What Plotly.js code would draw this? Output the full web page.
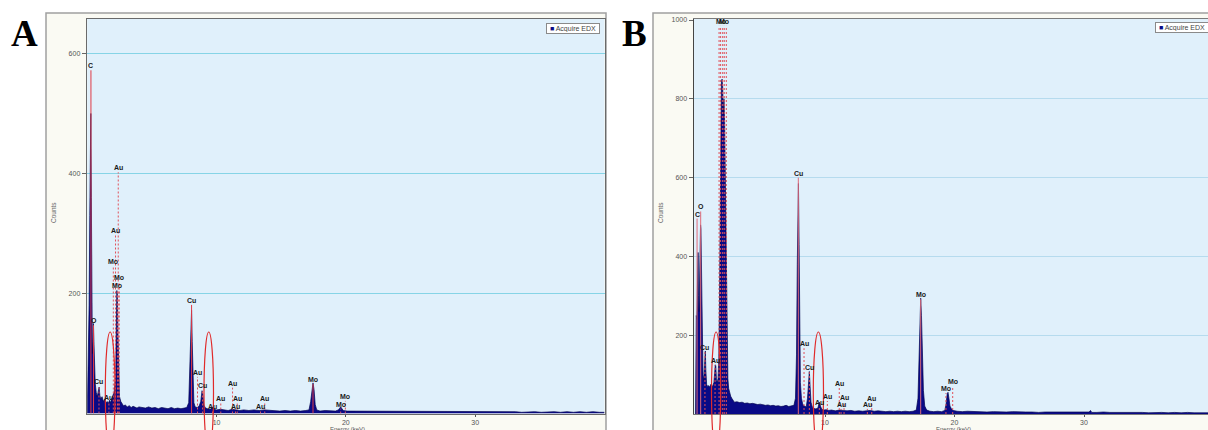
<!DOCTYPE html>
<html><head><meta charset="utf-8">
<script src="https://cdn.plot.ly/plotly-3.0.1.min.js"></script>
<style>html,body{margin:0;padding:0;background:#fff;overflow:hidden}#chart{width:1208px;height:430px}</style>
</head><body><div id="chart"></div>
<script>
// ---------- Panel A spectrum (keV, counts) ----------
const energyA = [0,0.05,0.1,0.15,0.2,0.24,0.28,0.32,0.36,0.4,0.44,0.48,0.52,0.56,0.62,0.7,0.78,0.86,0.92,0.98,1.05,1.15,1.25,1.35,1.45,1.55,1.65,1.72,1.8,1.88,1.95,2.02,2.08,2.14,2.2,2.25,2.29,2.33,2.38,2.43,2.5,2.6,2.7,2.8,2.95,3.1,3.25,3.4,3.55,3.7,3.85,4.0,4.25,4.5,4.75,5.0,5.25,5.5,5.75,6.0,6.25,6.5,6.75,7.0,7.25,7.5,7.7,7.85,7.95,8.02,8.07,8.12,8.18,8.25,8.35,8.5,8.65,8.78,8.88,8.94,9.02,9.15,9.3,9.5,9.65,9.72,9.8,10.0,10.3,10.6,10.9,11.2,11.5,11.8,12.1,12.5,12.9,13.3,13.7,14.1,14.5,14.9,15.3,15.7,16.1,16.5,16.9,17.15,17.28,17.38,17.46,17.54,17.63,17.75,18.0,18.4,18.8,19.2,19.42,19.52,19.6,19.7,19.8,20.1,20.6,21.1,21.6,22.1,22.6,23.1,23.6,24.1,24.6,25.1,25.6,26.1,26.6,27.1,27.6,28.1,28.6,29.1,29.6,30.1,30.6,31.1,31.6,32.1,32.6,33.1,33.6,34.1,34.6,35.1,35.6,36.1,36.6,37.1,37.6,38.1,38.6,39.1,39.6,40];
const countsA = [0,60,110,180,330,470,500,360,170,100,120,150,120,70,50,35,28,38,44,30,24,28,20,24,18,20,17,22,18,24,30,32,35,45,60,140,205,200,135,60,28,20,16,13,14,11,13,10,12,11,9,11,10,9,11,9,10,8,10,9,8,10,8,9,8,9,10,18,80,150,172,120,45,18,11,10,12,20,38,32,14,9,8,7,9,11,7,6,7,6,5,7,6,5,6,5,6,5,6,5,5,4,5,4,5,4,5,6,20,45,51,40,15,6,4,5,4,4,6,10,11,8,5,4,4,3,4,3,4,3,3,4,3,3,3,4,3,3,3,4,3,3,3,3,4,3,3,3,3,3,2,3,3,2,3,3,2,3,2,3,2,3,2,2];

// Panel A element markers: solid (main) lines
const mainEnergyA = [0.29,0.49,8.07,17.46];
const mainTopA    = [572,147,181,49];
const mainLabelA  = ['C','O','Cu','Mo'];
// Panel A element markers: dotted lines
const minorEnergyA = [0.91,1.68,2.02,2.19,2.40,2.48,2.34,8.53,8.92,9.69,10.33,11.24,11.6,11.47,13.73,13.4,19.96,19.6];
const minorTopA    = [46,19,246,297,402,219,206,61,39,4,17,43,17,4,17,4,21,8];
const minorLabelA  = ['Cu','Au','Mo','Au','Au','Mo','Mo','Au','Cu','Au','Au','Au','Au','Au','Au','Au','Mo','Mo'];

// ---------- Panel B spectrum (keV, counts) ----------
const energyB = [0,0.03,0.06,0.1,0.14,0.17,0.2,0.23,0.27,0.31,0.35,0.39,0.42,0.45,0.49,0.53,0.58,0.63,0.68,0.72,0.76,0.8,0.86,0.94,1.02,1.1,1.18,1.26,1.34,1.42,1.48,1.53,1.57,1.62,1.68,1.74,1.8,1.84,1.88,1.92,1.96,2.0,2.05,2.1,2.15,2.2,2.25,2.3,2.35,2.4,2.45,2.5,2.56,2.64,2.72,2.8,2.9,3.0,3.2,3.4,3.6,3.8,4.0,4.2,4.4,4.6,4.8,5.0,5.2,5.4,5.6,5.8,6.0,6.2,6.4,6.6,6.8,7.0,7.2,7.4,7.6,7.72,7.8,7.86,7.91,7.95,8.0,8.05,8.1,8.18,8.28,8.4,8.55,8.65,8.72,8.79,8.85,8.92,9.02,9.15,9.3,9.45,9.52,9.58,9.65,9.75,9.9,10.1,10.3,10.5,10.8,11.1,11.4,11.7,12.0,12.3,12.6,12.9,13.2,13.5,13.8,14.1,14.4,14.7,15.0,15.3,15.6,15.9,16.2,16.5,16.8,17.05,17.18,17.27,17.34,17.39,17.45,17.52,17.6,17.7,17.85,18.1,18.4,18.7,19.0,19.25,19.35,19.44,19.5,19.57,19.65,19.75,19.9,20.2,20.6,21.0,21.5,22.0,22.5,23.0,23.5,24.0,24.5,25.0,25.5,26.0,26.5,27.0,27.5,28.0,28.5,29.0,29.5,30.0,30.4,30.5,30.6,31.0,31.5,32.0,32.5,33.0,33.5,34.0,34.5,35.0,35.5,36.0,36.5,37.0,37.5,38.0,38.5,39.0,39.6];
const countsB = [0,180,250,240,330,400,410,300,260,330,440,480,470,380,260,160,100,85,110,150,160,110,75,70,72,68,75,70,72,80,100,125,122,85,80,90,140,250,450,650,780,840,850,830,760,800,740,600,420,250,150,90,65,50,45,40,33,30,31,29,30,27,28,26,27,25,24,25,23,22,23,21,22,20,21,19,20,22,19,20,22,40,150,380,560,585,430,200,80,40,25,20,18,40,85,108,70,30,18,14,13,15,24,30,20,12,10,11,9,10,8,10,9,8,9,7,8,7,8,9,7,8,7,6,7,6,7,6,7,6,7,10,40,160,270,294,250,150,60,20,10,7,6,7,6,9,25,52,55,40,20,14,9,7,6,7,6,6,5,6,5,5,6,5,5,5,4,5,5,4,5,4,5,4,5,9,4,4,5,4,4,5,4,4,4,3,4,4,3,4,3,4,3,3,3];

const mainEnergyB = [0.12,0.40,7.94,17.39];
const mainTopB    = [496,514,600,291];
const mainLabelB  = ['C','O','Cu','Mo'];
const minorEnergyB = [0.73,1.51,1.82,1.94,2.10,2.22,2.38,8.38,8.79,9.56,10.18,11.1,11.47,11.24,13.61,13.27,19.86,19.34];
const minorTopB    = [157,124,985,985,985,985,985,167,106,18,33,66,30,13,28,13,71,53];
const minorLabelB  = ['Cu','Au','','Mo','','Mo','','Au','Cu','Au','Au','Au','Au','Au','Au','Au','Mo','Mo'];

const tickValsX = [10,20,30];
const tickValsYA = [200,400,600];
const tickValsYB = [200,400,600,800,1000];
const seriesName = 'Acquire EDX';
const panelLetters = ['A','B'];

// ---------- helpers ----------
const W = 1208, H = 430;
const px = v => v / W;
const py = v => 1 - v / H;

function lineTrace(E, T, xa, ya, color, dash, width) {
  const xs = [], ys = [];
  E.forEach((e, i) => { xs.push(e, e, null); ys.push(0, T[i], null); });
  return {type:'scatter', mode:'lines', x:xs, y:ys, xaxis:xa, yaxis:ya,
    line:{color:color, width:width, dash:dash}, hoverinfo:'skip', showlegend:false};
}
function labelAnns(E, T, L, xr, yr) {
  const out = [];
  E.forEach((e, i) => {
    if (!L[i]) return;
    out.push({xref:xr, yref:yr, x:e, y:T[i], text:'<b>' + L[i] + '</b>', showarrow:false,
      yanchor:'bottom', xanchor:'center', yshift:-1,
      font:{family:'Liberation Sans, Arial', size:7, color:'#1a1a1a'}});
  });
  return out;
}

const navy = '#0a0a86';
const traces = [
  {type:'scatter', mode:'lines', x:energyA, y:countsA, xaxis:'x', yaxis:'y', fill:'tozeroy',
   fillcolor:navy, line:{color:'#050550', width:0.7}, name:seriesName, showlegend:false},
  lineTrace(minorEnergyA, minorTopA, 'x', 'y', '#e0505a', '2px,2px', 1),
  lineTrace(mainEnergyA, mainTopA, 'x', 'y', '#e03a45', 'solid', 1),
  {type:'scatter', mode:'lines', x:energyB, y:countsB, xaxis:'x2', yaxis:'y2', fill:'tozeroy',
   fillcolor:navy, line:{color:'#050550', width:0.7}, name:seriesName, showlegend:false},
  lineTrace(minorEnergyB, minorTopB, 'x2', 'y2', '#e0505a', '2px,2px', 1),
  lineTrace(mainEnergyB, mainTopB, 'x2', 'y2', '#e06a78', 'solid', 1)
];

const tickFont = {family:'Liberation Sans, Arial', size:7, color:'#555'};
const axA = {x0:87.2, x1:604.5, y0:19, y1:413.5};
const axB = {x0:694, x1:1208, y0:19, y1:414};

const layout = {
  width:W, height:H, margin:{l:0,r:0,t:0,b:0},
  paper_bgcolor:'#ffffff', plot_bgcolor:'rgba(0,0,0,0)', showlegend:false,
  font:{family:'Liberation Sans, Arial'},
  xaxis:{domain:[px(axA.x0), px(axA.x1)], range:[0,40], anchor:'y', tickvals:tickValsX,
    ticks:'outside', ticklen:2, tickcolor:'#555', tickfont:tickFont, showgrid:false, zeroline:false,
    showline:true, linecolor:'#6a6a6a', linewidth:1, mirror:true, fixedrange:true},
  yaxis:{domain:[py(axA.y1), py(axA.y0)], range:[0,(axA.y1-axA.y0)/0.6], anchor:'x', tickvals:tickValsYA,
    ticks:'outside', ticklen:4, tickcolor:'#666', tickfont:tickFont, showgrid:true, gridcolor:'#86d4e6',
    gridwidth:1, zeroline:false, showline:true, linecolor:'#6a6a6a', linewidth:1.5, mirror:true, fixedrange:true},
  xaxis2:{domain:[px(axB.x0), 1], range:[(axB.x0-695.5)/12.95,(axB.x1-695.5)/12.95], anchor:'y2', tickvals:tickValsX,
    ticks:'outside', ticklen:2, tickcolor:'#555', tickfont:tickFont, showgrid:false, zeroline:false,
    showline:true, linecolor:'#7a7a7a', linewidth:1, mirror:true, fixedrange:true},
  yaxis2:{domain:[py(axB.y1), py(axB.y0)], range:[0,(axB.y1-axB.y0)/0.394], anchor:'x2', tickvals:tickValsYB,
    ticks:'outside', ticklen:4, tickcolor:'#666', tickfont:tickFont, showgrid:true, gridcolor:'#b6dbee',
    gridwidth:1, zeroline:false, showline:true, linecolor:'#444', linewidth:1.5, mirror:false, fixedrange:true},
  shapes:[
    {type:'rect', xref:'paper', yref:'paper', x0:px(46), x1:px(606), y0:py(445), y1:py(13),
     fillcolor:'#fafaf3', line:{color:'#a0a0a0', width:1.5}, layer:'below'},
    {type:'rect', xref:'paper', yref:'paper', x0:px(653), x1:px(1220), y0:py(445), y1:py(13),
     fillcolor:'#fafaf3', line:{color:'#a0a0a0', width:1.5}, layer:'below'},
    {type:'rect', xref:'paper', yref:'paper', x0:px(axA.x0), x1:px(axA.x1), y0:py(axA.y1), y1:py(axA.y0),
     fillcolor:'#e0f0fb', line:{width:0}, layer:'below'},
    {type:'rect', xref:'paper', yref:'paper', x0:px(axB.x0), x1:px(1212), y0:py(axB.y1), y1:py(axB.y0),
     fillcolor:'#e0f0fb', line:{width:0}, layer:'below'},
    {type:'circle', xref:'paper', yref:'paper', x0:px(105.3), x1:px(115), y0:py(452), y1:py(332),
     line:{color:'#e02a2a', width:1.2}},
    {type:'circle', xref:'paper', yref:'paper', x0:px(204), x1:px(213.5), y0:py(452), y1:py(332),
     line:{color:'#e02a2a', width:1.2}},
    {type:'circle', xref:'paper', yref:'paper', x0:px(711.5), x1:px(720.7), y0:py(452), y1:py(332),
     line:{color:'#e02a2a', width:1.2}},
    {type:'circle', xref:'paper', yref:'paper', x0:px(813.3), x1:px(823.5), y0:py(452), y1:py(332),
     line:{color:'#e02a2a', width:1.2}}
  ],
  annotations:[]
};

const ann = layout.annotations;
ann.push(...labelAnns(mainEnergyA, mainTopA, mainLabelA, 'x', 'y'));
ann.push(...labelAnns(minorEnergyA, minorTopA, minorLabelA, 'x', 'y'));
ann.push(...labelAnns(mainEnergyB, mainTopB, mainLabelB, 'x2', 'y2'));
ann.push(...labelAnns(minorEnergyB, minorTopB, minorLabelB, 'x2', 'y2'));

// panel letters
ann.push({xref:'paper', yref:'paper', x:px(24.5), y:py(34), text:'<b>'+panelLetters[0]+'</b>', showarrow:false,
  xanchor:'center', yanchor:'middle', font:{family:'Liberation Serif, Times New Roman', size:37, color:'#000'}});
ann.push({xref:'paper', yref:'paper', x:px(634.5), y:py(33), text:'<b>'+panelLetters[1]+'</b>', showarrow:false,
  xanchor:'center', yanchor:'middle', font:{family:'Liberation Serif, Times New Roman', size:37, color:'#000'}});

// legends
const legText = '<span style="color:'+navy+'">\u25A0</span> ' + seriesName;
ann.push({xref:'paper', yref:'paper', x:px(573), y:py(29), text:legText, showarrow:false, xanchor:'center', yanchor:'middle',
  font:{family:'Liberation Sans, Arial', size:7, color:'#444'}, bgcolor:'#ffffff', bordercolor:'#8a8a8a', borderwidth:1, borderpad:1, width:50, height:7});
ann.push({xref:'paper', yref:'paper', x:px(1182), y:py(27.5), text:legText, showarrow:false, xanchor:'center', yanchor:'middle',
  font:{family:'Liberation Sans, Arial', size:7, color:'#444'}, bgcolor:'#ffffff', bordercolor:'#8a8a8a', borderwidth:1, borderpad:1, width:50, height:7});

// axis titles
[[53,213],[660,213]].forEach(p => ann.push({xref:'paper', yref:'paper', x:px(p[0]), y:py(p[1]), text:'Counts', textangle:-90,
  showarrow:false, xanchor:'center', yanchor:'middle', font:{family:'Liberation Sans, Arial', size:6.5, color:'#666'}}));
[[347,429],[953,429]].forEach(p => ann.push({xref:'paper', yref:'paper', x:px(p[0]), y:py(p[1]), text:'Energy (keV)',
  showarrow:false, xanchor:'center', yanchor:'middle', font:{family:'Liberation Sans, Arial', size:6, color:'#555'}}));

Plotly.newPlot('chart', traces, layout, {staticPlot:true, displayModeBar:false});
</script></body></html>
